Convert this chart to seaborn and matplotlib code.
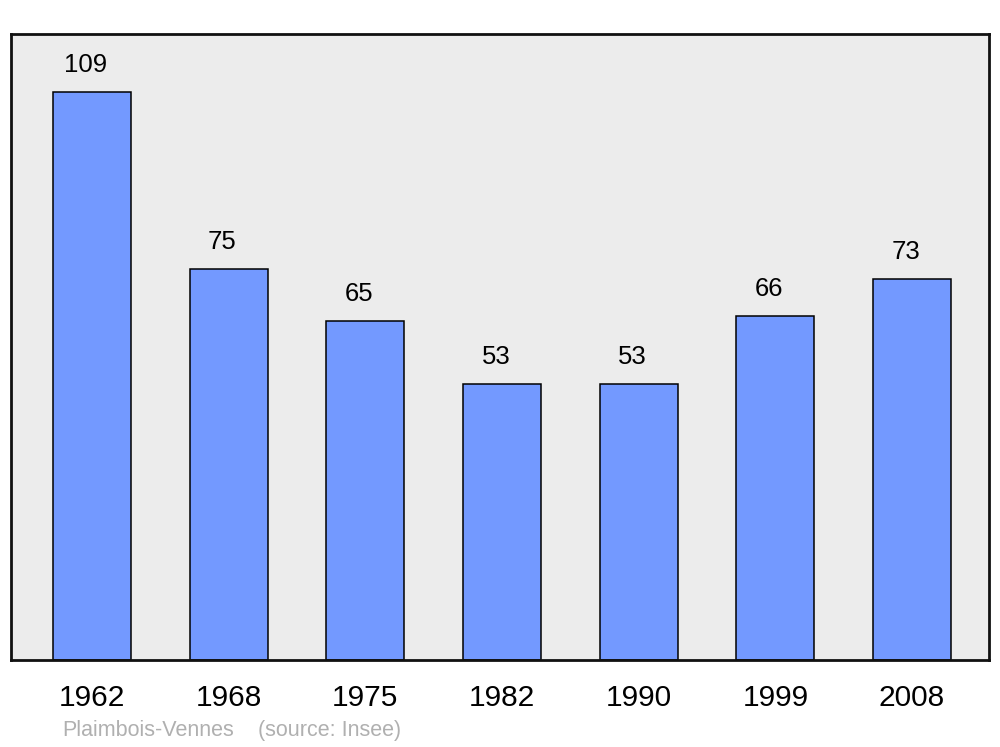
import matplotlib
matplotlib.use("Agg")
import matplotlib.pyplot as plt
import seaborn as sns
import pandas as pd

years = ["1962", "1968", "1975", "1982", "1990", "1999", "2008"]
population = [109, 75, 65, 53, 53, 66, 73]
commune = "Plaimbois-Vennes"
source = "(source: Insee)"

sns.set_theme(style="white")
plt.rcParams["font.family"] = ["Liberation Sans", "DejaVu Sans"]

df = pd.DataFrame({"year": years, "pop": population})

fig = plt.figure(figsize=(10, 7.47), dpi=100)
ax = fig.add_axes([0.011, 0.1165, 0.978, 0.838])
ax.set_facecolor("#ececec")

sns.barplot(data=df, x="year", y="pop", color="#7399ff", saturation=1,
            width=0.57, edgecolor="black", linewidth=1.1, ax=ax, zorder=2)

# value labels sit a little left of the bar centre, like the original
for i, v in enumerate(population):
    ax.annotate(str(v), (i, v), xytext=(-4.5, 19.5), textcoords="offset points",
                ha="center", va="center", fontsize=18.5, color="black")

ax.set_xlim(-0.593, 6.563)
ax.set_ylim(0, 120.1)
ax.set_xlabel("")
ax.set_ylabel("")
ax.set_yticks([])
ax.tick_params(axis="x", length=0, pad=17, labelsize=21.5, labelcolor="black")
ax.set_xticks(range(len(years)))
ax.set_xticklabels(years)
for lbl in ax.get_xticklabels():
    lbl.set_x(lbl.get_position()[0])
for s in ax.spines.values():
    s.set_visible(True)
    s.set_color("#111111")
    s.set_linewidth(2)

fig.text(0.062, 0.0145, commune, fontsize=15.5, color="#b0b0b0", va="baseline")
fig.text(0.258, 0.0145, source, fontsize=15.5, color="#b0b0b0", va="baseline")

fig.savefig("out.png", dpi=100, facecolor="white")
